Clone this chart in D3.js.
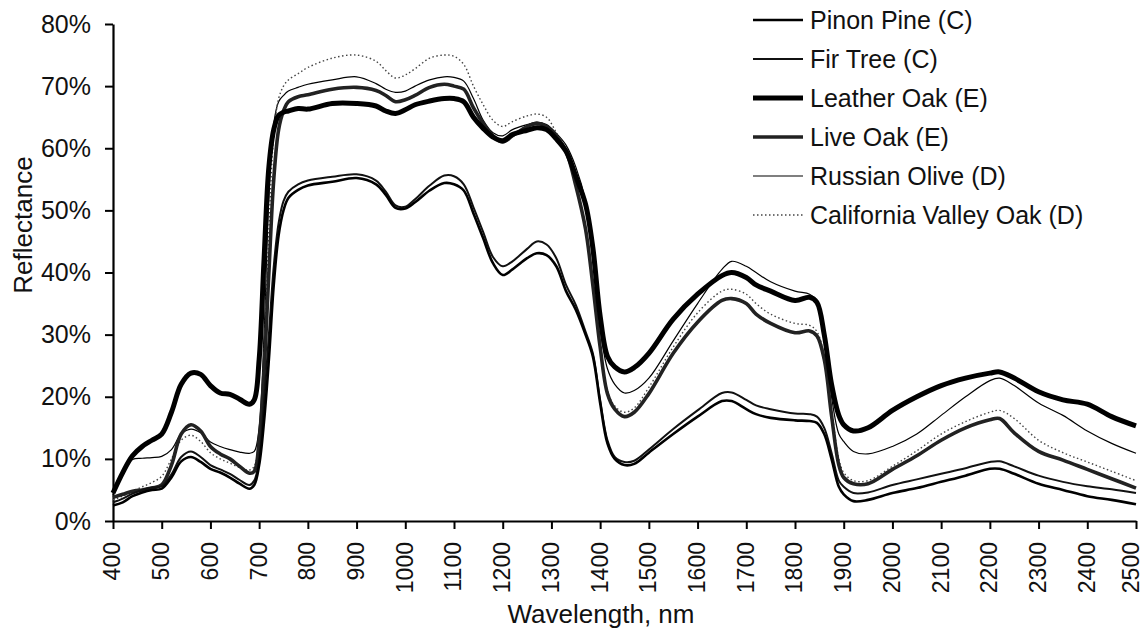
<!DOCTYPE html>
<html><head><meta charset="utf-8">
<script src="https://cdn.jsdelivr.net/npm/d3@7"></script>
<style>
body{margin:0;background:#fff;}
text{font-family:Arial,"Liberation Sans",sans-serif;fill:#111;}
</style></head>
<body><svg id="c" width="1145" height="632"></svg>
<script>
const wavelengths=[400,420,440,460,480,500,520,540,560,580,600,620,640,660,680,690,700,710,720,730,740,750,760,780,800,850,900,940,960,980,1000,1020,1050,1080,1100,1120,1140,1160,1180,1200,1220,1250,1270,1290,1310,1330,1350,1370,1385,1400,1415,1430,1450,1470,1500,1550,1600,1650,1670,1700,1720,1750,1800,1830,1845,1860,1875,1890,1900,1920,1950,2000,2050,2100,2150,2200,2220,2250,2300,2350,2400,2450,2500];

const pinonPine=[2.5,3.0,4.0,4.6,5.0,5.2,7.0,9.6,10.3,9.5,8.4,7.8,7.0,6.0,5.2,5.8,9,16,26,38,46,50,52,53.3,54,54.6,55.2,54.2,52.5,50.4,50.3,51.3,53.2,54.4,54.2,53.2,49.5,45.5,41.5,39.6,40.5,42.3,43.1,42.8,41,37,34,30,26.5,19,12.5,10,9,9.2,11,14,16.8,19.3,19.3,18,17.2,16.6,16.2,16.1,15.8,14,10,5.5,4.3,3.2,3.4,4.5,5.3,6.3,7.3,8.4,8.4,7.6,6,5.0,4.0,3.4,2.7];

const firTree=[3.0,3.6,4.4,5.0,5.4,5.6,7.5,10.3,11.2,10.3,9.0,8.3,7.6,6.6,5.8,6.5,10,19,30,41,48,51.5,53,54.2,54.8,55.4,55.8,54.8,53,50.8,50.6,51.8,54,55.6,55.5,54.2,50.5,46.5,42.5,41,41.8,43.8,45,44.5,42.3,38,34.8,30.5,27,19.5,13,10.3,9.5,9.7,11.5,14.8,17.8,20.6,20.7,19.5,18.6,18,17.3,17.2,16.8,15,11,6.5,5.5,4.5,4.6,5.8,6.7,7.6,8.5,9.5,9.6,8.8,7.3,6.3,5.6,5.1,4.5];

const leatherOak=[4.5,7.8,10.5,12,13,14,17.5,22,23.8,23.6,21.8,20.6,20.4,19.6,18.8,19.5,26,42,57,63,65.3,65.8,66,66.4,66.3,67.2,67.2,66.8,66,65.6,66.2,67,67.6,68,68,67.5,65,63.2,61.8,61.2,62.2,62.9,63.3,63,61.5,59.5,55.5,51,44,33,26.5,24.8,24,24.7,27,32.5,36.5,39.5,40,39.2,38,37,35.5,36,35.2,30,22,17,15.5,14.5,15,17.8,20,21.8,23,23.8,24,23,20.8,19.5,18.8,16.8,15.3];

const liveOak=[3.8,4.3,4.8,5.0,5.3,5.8,9,14,15.5,14.5,12,10.8,10,8.8,7.7,8,13,24,40,55,63,66,67.5,68.3,68.6,69.5,69.8,69.3,68.5,67.5,67.8,68.5,69.8,70.3,70,69.5,66.5,64,62,61,62,63.5,64,63.5,62,59.5,54,47,38,28,20.5,18,16.8,17.5,20.5,27,32,35.5,35.8,35,33.3,31.8,30.3,30.6,29.8,26,17,9,7,6,6,8.3,10.5,13,15,16.3,16.5,14.2,11.2,9.8,8.3,6.8,5.3];

const russianOlive=[4.2,7.5,9.9,10.1,10.2,10.4,11.5,14,14.8,14.2,12.7,12,11.5,11.1,10.9,11.2,15,30,52,64,67.5,68.5,69.2,69.8,70.3,71,71.5,70.4,69.5,69,69.2,70,71,71.5,71.4,70.8,68,64.5,62.5,62,63,63.8,64.2,63.8,62.4,60.5,57,51.5,42,31,24.5,22,20.6,21,23,29,35,40.5,41.8,41,40,38.5,37,36.5,35.5,30,20,14,12.8,11.2,10.8,12,14,17,20,22.6,23.0,21.8,19.0,17,14.5,12.5,10.9];

const caValleyOak=[3.4,4,4.8,5.5,6.2,7.2,10,13,13.8,12.8,11,10,9.3,8.6,8.2,8.8,14,27,47,62,68,70,71,72,73,74.5,75,74,72.5,71.3,71.8,72.8,74.5,75,74.8,73.5,70,67,64.5,63.5,64.3,65.2,65.5,65,62.5,59.5,54,47,38,28,21,18.5,17.5,18.2,21.5,28,33.5,37,37.3,36.5,35,33.3,31.8,31.5,30.5,26.5,18,10,7.8,6.5,6.5,8.8,11.3,14,16,17.5,17.8,16.5,13,11,9.5,8,6.5];

const seriesNames=["Pinon Pine (C)","Fir Tree (C)","Leather Oak (E)","Live Oak (E)","Russian Olive (D)","California Valley Oak (D)"];
const seriesValues=[pinonPine,firTree,leatherOak,liveOak,russianOlive,caValleyOak];
const xTicks=d3.range(400,2501,100);
const yTicks=[0,10,20,30,40,50,60,70,80];

const styles=[
  {w:2.6,c:"#000",dash:null},
  {w:2.0,c:"#111",dash:null},
  {w:5.0,c:"#000",dash:null},
  {w:3.6,c:"#222",dash:null},
  {w:1.2,c:"#000",dash:null},
  {w:1.4,c:"#444",dash:"1.5,2.5"}
];

const svg=d3.select("#c");
const x=d3.scaleLinear().domain([400,2500]).range([113,1136]);
const y=d3.scaleLinear().domain([0,80]).range([521,24]);

const yAxis=d3.axisLeft(y).tickValues(yTicks).tickFormat(d=>d+"%").tickSize(8).tickSizeOuter(0).tickPadding(14);
const gy=svg.append("g").attr("transform","translate(113,0)").call(yAxis);
gy.selectAll("text").style("font-size","25px");
gy.select(".domain").attr("stroke-width",2.2);
gy.selectAll(".tick line").attr("stroke-width",2);

const xAxis=d3.axisBottom(x).tickValues(xTicks).tickFormat(d=>d).tickSize(8).tickSizeOuter(0);
const gx=svg.append("g").attr("transform","translate(0,521)").call(xAxis);
gx.selectAll("text").style("font-size","23px")
  .attr("transform","rotate(-90)").attr("x",-21).attr("y",0)
  .attr("dy",d=>d===2500?"0.12em":"0.3em").attr("text-anchor","end");
gx.select(".domain").attr("stroke-width",2.2);
gx.selectAll(".tick line").attr("stroke-width",2);

const line=d3.line().x((d,i)=>x(wavelengths[i])).y(d=>y(d)).curve(d3.curveCatmullRom.alpha(0.5));
const order=[4,5,3,1,0,2];
order.forEach(k=>{
  const s=styles[k];
  const p=svg.append("path").datum(seriesValues[k]).attr("d",line)
    .attr("fill","none").attr("stroke",s.c).attr("stroke-width",s.w).attr("stroke-linejoin","round");
  if(s.dash) p.attr("stroke-dasharray",s.dash);
});

const lg=svg.append("g");
seriesNames.forEach((n,k)=>{
  const yy=20+k*39;
  const s=styles[k];
  const l=lg.append("line").attr("x1",753).attr("x2",803).attr("y1",yy).attr("y2",yy)
    .attr("stroke",s.c).attr("stroke-width",s.w);
  if(s.dash) l.attr("stroke-dasharray",s.dash);
  lg.append("text").attr("x",810).attr("y",yy).attr("dy","0.35em").style("font-size","25px").text(n);
});

svg.append("text").attr("transform","translate(32,225) rotate(-90)").attr("text-anchor","middle").style("font-size","26px").text("Reflectance");
svg.append("text").attr("x",601).attr("y",623).attr("text-anchor","middle").style("font-size","26px").text("Wavelength, nm");
</script></body></html>
